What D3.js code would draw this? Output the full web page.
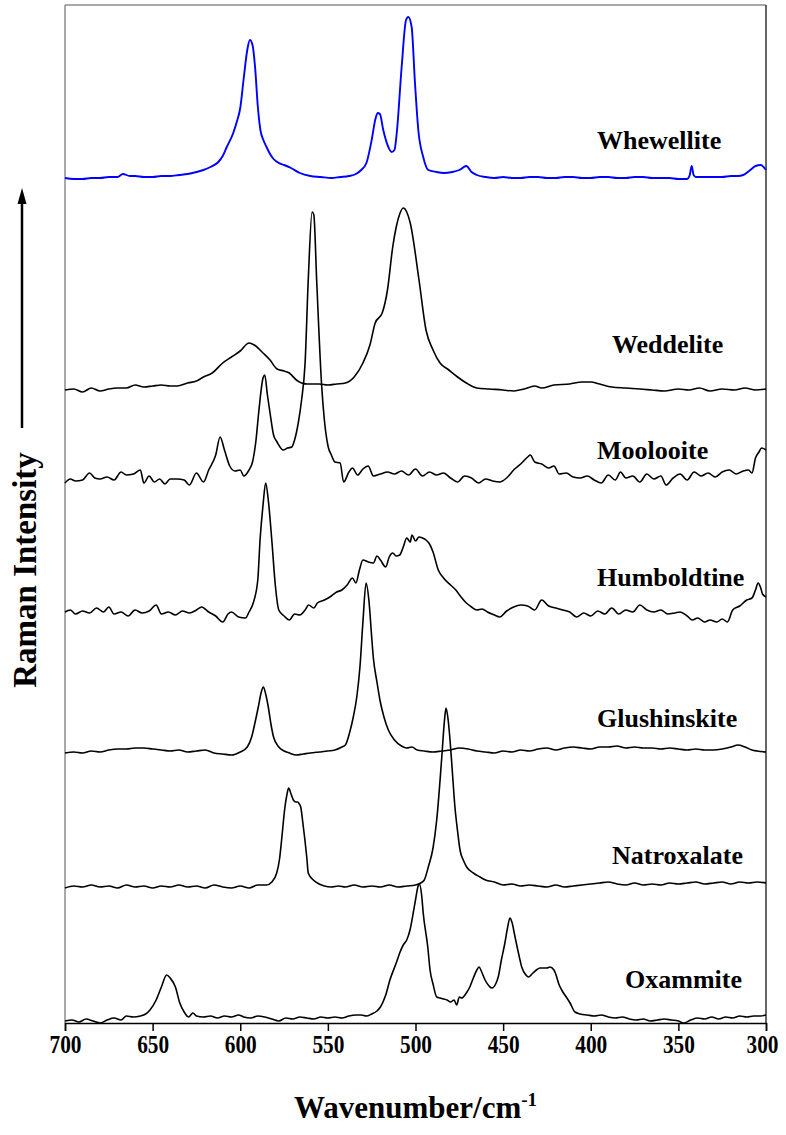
<!DOCTYPE html>
<html>
<head>
<meta charset="utf-8">
<script src="https://cdn.jsdelivr.net/npm/d3@7/dist/d3.min.js"></script>
<style>
  html, body { margin: 0; padding: 0; background: #fff; }
  svg { display: block; }
  text { font-family: "Liberation Serif", "Times New Roman", serif; font-weight: bold; fill: #000; }
</style>
</head>
<body>
<svg id="chart" width="786" height="1135"></svg>
<script>
// ---- data: [wavenumber (cm-1), intensity above each trace's baseline (a.u.)] ----
const xTicks = [700, 650, 600, 550, 500, 450, 400, 350, 300];
const seriesNames = ["Whewellite", "Weddelite", "Moolooite", "Humboldtine", "Glushinskite", "Natroxalate", "Oxammite"];
const seriesOffsets = [845, 633, 543, 411, 271, 137, 4];

const whewellite = [[700,0],[695,-1],[690,-1],[685,0],[680,0],[675,1],[670,1],[667,4],[663,2],[660,2],[655,1],[650,1],[645,2],[640,2],[635,3],[630,4],[625,6],[621,8],[617,11],[612.5,16],[610,22],[607.7,31],[604,45],[602,56],[600,70],[598,100],[596,128],[594.5,138],[593,133],[591.5,110],[590,72],[588.5,48],[586.8,38],[585,31],[583,24],[581,19],[578,15],[575,13],[571,10],[566,5],[560,2],[554,1],[548,0],[543,1],[538,2],[534,4],[531,8],[528,15],[525,38],[523,58],[521.6,65],[520.3,64],[518.4,48],[515.5,31],[513.6,26],[512,28],[510.7,45],[507.9,111],[505.4,158],[504.1,161],[502.2,151],[500.3,95],[498.4,48],[495.6,21],[492.7,8],[488,6],[484,5],[479,6],[475,8],[471,12],[468,6],[465,3],[460,1],[455,0],[450,1],[445,0],[440,0],[435,1],[430,1],[425,0],[420,0],[415,1],[410,1],[405,0],[400,0],[395,1],[390,1],[385,0],[380,0],[375,1],[370,1],[365,0],[360,0],[355,0],[350,-1],[345,-1],[343.5,3],[342.4,12],[341.3,3],[340,1],[335,1],[330,1],[325,1],[320,2],[316,2],[313,3],[309,8],[306,12],[303,13],[300,8]];

const weddelite = [[700,0],[695,1],[690,-2],[685,2],[680,-1],[675,1],[670,2],[665,2],[660,5],[655,3],[650,4],[645,5],[640,4],[636,4],[630,7],[625,9],[621,13],[616,17],[610,27],[605,33],[600,39],[595,47],[592,45],[587,37],[583,30],[579,21],[575,19],[572,17],[568,10],[562,6],[555,6],[550,5],[545,6],[540,7],[535,13],[530,27],[526,45],[523,67],[519,77],[516,100],[513,143],[511,163],[509,176],[507,182],[505,178],[503,167],[498,110],[494,60],[490,40],[486,27],[481,20],[476,13],[471,7],[465,2],[458,1],[450,0],[444,-1],[438,1],[432,4],[428,2],[421,5],[412,6],[405,8],[400,8],[395,6],[388,3],[380,2],[372,1],[365,0],[358,-1],[350,1],[344,0],[338,2],[332,-1],[325,1],[318,0],[312,2],[306,0],[300,1]];

const moolooite = [[700,-3],[697,1],[694,-1],[690,0],[686,7],[683,2],[680,1],[676,3],[672,0],[668,8],[665,5],[661,6],[657,10],[655,-3],[652,4],[649,-2],[646,1],[643,-4],[640,1],[636,1],[632,0],[629,-5],[625,7],[621,-2],[618,10],[614,25],[611.5,43],[609,30],[606,14],[603,9],[600,10],[598,4],[595,10],[593,18],[591,40],[589.5,67],[587,102],[586,105],[584.5,85],[583,67],[581,45],[579,38],[575.4,30],[573,32],[570.6,33],[569,40],[566.9,57],[565,80],[563,117],[561.2,200],[559,268],[558,265],[556.4,200],[553.5,93],[552,60],[549.8,33],[548,25],[546,18],[543,17],[541,-2],[538,8],[536,12],[533,5],[530,11],[527,14],[524,4],[520,6],[516,8],[512,6],[508,9],[504,5],[500,11],[496,4],[492,8],[488,5],[484,7],[480,2],[476,-2],[472,4],[468,2],[464,-3],[460,1],[456,-1],[452,-2],[448,2],[444,10],[440,16],[436,23],[434.5,25],[432,18],[428,16],[424,12],[421,14],[418,6],[414,7],[410,3],[406,2],[402,4],[398,0],[394,-3],[390,5],[386,0],[383,8],[380,2],[376,4],[372,-2],[368,6],[364,1],[360,4],[357,-5],[353,2],[349,6],[345,0],[341,8],[337,4],[333,7],[329,3],[325,8],[321,10],[317,6],[313,9],[310,10],[308,7],[306,22],[304,28],[302.5,32],[300,30]];

const humboldtine = [[700,0],[697,2],[694,-2],[690,1],[686,-1],[682,4],[678,0],[675,5],[672,-2],[668,0],[664,-4],[660,2],[656,-1],[652,1],[648,7],[645,-2],[641,0],[637,-3],[633,1],[629,-1],[625,2],[622,5],[618,0],[614,-4],[610,-10],[607,-2],[605,0],[601,-5],[597,-6],[595,0],[592.6,9],[590,32],[588.7,72],[587,107],[585.5,129],[584,112],[582,72],[580,27],[578,2],[575,-4],[572,-8],[569,-2],[566,-3],[563,2],[561,7],[558,4],[556,9],[552,12],[548,16],[545,20],[542,22],[539,27],[536,34],[534,29],[532,42],[530,52],[527,50],[524,49],[522,56],[520,52],[517,45],[515,55],[513,59],[511,56],[509,57],[507,65],[505,74],[503,70],[502,77],[500,71],[498,75],[496,74],[494,72],[492,68],[490,60],[487,42],[484,34],[480,27],[477,22],[474,15],[471,9],[468,5],[465,2],[462,3],[459,0],[455,-3],[452,-5],[448,1],[444,5],[440,7],[436,6],[432,2],[428,12],[424,6],[420,4],[416,2],[412,0],[408,-5],[404,-1],[400,-4],[396,1],[392,-2],[388,4],[384,-2],[380,2],[376,0],[372,7],[368,2],[364,0],[360,2],[356,-2],[352,-1],[349,0],[345,-4],[342,-8],[339,-6],[335,-10],[332,-8],[328,-10],[325,-7],[322,-10],[319,2],[315,6],[311,12],[308,14],[306,22],[304.5,29],[303,24],[302,18],[300,15]];

const glushinskite = [[700,-1],[695,0],[690,-1],[685,1],[680,0],[675,2],[670,3],[665,3],[660,4],[655,4],[650,3],[645,2],[640,1],[635,2],[630,0],[625,1],[620,2],[615,-1],[610,-2],[605,-3],[600,0],[596,5],[593.5,15],[591.5,30],[589.7,45],[588,60],[586.8,65],[585.5,58],[584,45],[582.5,28],[581,15],[578,5],[575,1],[572,-1],[568,-3],[564,-2],[560,-1],[555,0],[550,1],[546,2],[542,5],[540,7],[537.5,20],[535.5,35],[533.5,55],[531.7,85],[530,130],[528.2,169],[526.5,150],[525,115],[524.1,95],[522,70],[520.3,52],[518,35],[515.5,22],[512,12],[508,6],[505,4],[502,5],[499,2],[495,1],[490,0],[485,1],[480,2],[475,4],[470,3],[465,1],[460,0],[455,-1],[450,1],[445,0],[440,2],[435,1],[430,3],[425,4],[420,2],[415,4],[410,5],[405,4],[400,3],[395,5],[390,5],[385,6],[380,4],[375,5],[370,4],[365,4],[360,3],[355,4],[350,3],[345,2],[340,3],[335,2],[330,2],[325,3],[320,5],[316,7],[312,5],[308,2],[305,1],[300,0]];

const natroxalate = [[700,-2],[695,0],[690,-1],[685,1],[680,-1],[675,0],[670,-2],[665,1],[660,-1],[655,0],[650,-2],[645,0],[640,-1],[635,1],[630,-1],[625,0],[620,-2],[615,1],[610,-1],[605,-2],[600,0],[595,-2],[590,1],[585,1],[582,4],[579.2,13],[577.5,28],[576.4,46],[574.5,79],[573.3,92],[572.4,98],[571,92],[569.7,86],[568.3,84],[567.2,84],[566.3,82],[565.5,79],[564.2,62],[563.1,46],[562,28],[561.2,13],[558.3,6],[555,2],[552,0],[548,-1],[544,0],[540,-1],[535,1],[530,-1],[525,0],[520,-1],[515,1],[510,-1],[505,0],[500,1],[497,3],[495,6],[492.7,19],[490,38],[487.9,66],[485,129],[483.5,165],[482.6,178],[481.5,168],[480.3,146],[479,115],[477.5,79],[476,55],[474.6,36],[472.5,25],[470.8,19],[467,13],[463.2,9],[460,6],[455,4],[450,1],[445,2],[440,0],[435,1],[430,0],[425,-1],[420,1],[415,-1],[410,0],[405,1],[400,2],[395,3],[390,4],[385,2],[380,1],[375,3],[370,1],[365,2],[360,1],[355,3],[350,2],[345,3],[340,4],[335,2],[330,3],[325,4],[320,2],[315,4],[310,3],[305,4],[300,3]];

const oxammite = [[700,-2],[696,-1],[692,-3],[688,0],[684,-2],[680,-4],[676,-1],[672,1],[668,-1],[665,3],[661,2],[657,3],[654,5],[651.5,9],[648,19],[645,32],[642,44],[640,41],[637,32],[634.5,16],[632,7],[629.5,2],[627,6],[625,3],[621,2],[617,3],[613,1],[609,3],[605,2],[601,4],[598,2],[594,1],[590,3],[586,2],[582,0],[578,-2],[574,1],[570,0],[566,2],[562,1],[558,0],[554,2],[550,1],[546,2],[542,1],[538,3],[534,4],[531,4],[528,3],[525,5],[522,8],[520,12],[517,24],[514.6,39],[511,56],[508.8,67],[507,74],[505,79],[503,90],[501.3,106],[500,119],[498.5,133],[497.8,135],[496.5,124],[495.6,106],[493,72],[491.7,49],[490,35],[487.9,22],[486,21],[484,20],[482,19],[480,17],[478,19],[476.5,14],[475,22],[473.6,21],[471,26],[469,32],[467,41],[465,49],[463.8,52],[462,46],[460.3,39],[458,33],[456.5,31],[454,36],[452.8,42],[451,59],[449,76],[447.5,91],[446.1,101],[445,97],[443.2,82],[441,64],[439.4,52],[437,44],[435.6,42],[433,46],[431,49],[429,51],[427,51],[425,51],[423.3,52],[421,49],[420,45],[418,34],[416.6,29],[414,22],[411.8,16],[409,7],[406,5],[402,4],[398,3],[394,4],[390,2],[386,1],[382,2],[378,0],[374,-1],[370,0],[366,-2],[362,-1],[358,0],[354,-1],[350,-2],[347,-4],[343,-1],[339,1],[335,0],[331,2],[327,0],[323,2],[319,1],[315,3],[311,2],[307,3],[303,3],[300,4]];

const seriesData = [whewellite, weddelite, moolooite, humboldtine, glushinskite, natroxalate, oxammite];
const seriesColors = ["#0000ff", "#000", "#000", "#000", "#000", "#000", "#000"];

// ---- layout ----
const plot = { left: 65, right: 766, top: 5, bottom: 1023 };
const svg = d3.select("#chart");

const x = d3.scaleLinear().domain([700, 300]).range([plot.left, plot.right]);
const y = d3.scaleLinear().domain([0, 1018]).range([plot.bottom, plot.top]);

// frame (Excel-like plot area border)
svg.append("line").attr("x1", plot.left).attr("x2", plot.right).attr("y1", plot.top).attr("y2", plot.top)
  .attr("stroke", "#8c8c8c").attr("stroke-width", 1.5);
svg.append("line").attr("x1", plot.left).attr("x2", plot.left).attr("y1", plot.top).attr("y2", plot.bottom)
  .attr("stroke", "#8c8c8c").attr("stroke-width", 1.5);
svg.append("line").attr("x1", plot.right).attr("x2", plot.right).attr("y1", plot.top).attr("y2", plot.bottom)
  .attr("stroke", "#333").attr("stroke-width", 1.5);

// spectra
const line = d3.line().x(d => x(d[0])).curve(d3.curveMonotoneX);
seriesData.forEach((data, i) => {
  svg.append("path")
    .datum(data)
    .attr("fill", "none")
    .attr("stroke", seriesColors[i])
    .attr("stroke-width", i === 0 ? 1.9 : 1.6)
    .attr("stroke-linejoin", "round")
    .attr("d", line.y(d => y(d[1] + seriesOffsets[i])));
});

// x axis
const xAxis = d3.axisBottom(x).tickValues(xTicks).tickSize(8).tickPadding(4).tickFormat(d3.format("d"));
const gx = svg.append("g").attr("transform", `translate(0,${plot.bottom})`).call(xAxis);
gx.select(".domain").attr("stroke", "#000").attr("stroke-width", 1.5);
gx.selectAll(".tick line").attr("stroke", "#000").attr("stroke-width", 1.5);
gx.selectAll(".tick text").attr("font-size", 26).attr("font-family", "'Liberation Serif', serif")
  .attr("font-weight", "bold").attr("fill", "#000").attr("textLength", 32).attr("lengthAdjust", "spacingAndGlyphs")
  .attr("dx", d => d === 300 ? -4 : 0);

// series labels
const labelPos = [[597, 149], [612, 353], [597, 459], [597, 586], [597, 727], [612, 864], [625, 988]];
seriesNames.forEach((name, i) => {
  svg.append("text").attr("x", labelPos[i][0]).attr("y", labelPos[i][1])
    .attr("font-size", 26).text(name);
});

// x title
const title = svg.append("text").attr("x", (plot.left + plot.right) / 2).attr("y", 1118)
  .attr("text-anchor", "middle").attr("font-size", 31);
title.append("tspan").text("Wavenumber/cm");
title.append("tspan").attr("dy", -12).attr("font-size", 19).text("-1");

// y title with arrow
svg.append("text").attr("transform", "translate(36,570) rotate(-90)")
  .attr("text-anchor", "middle").attr("font-size", 33).text("Raman Intensity");
svg.append("line").attr("x1", 22).attr("x2", 22).attr("y1", 428).attr("y2", 200)
  .attr("stroke", "#000").attr("stroke-width", 2.5);
svg.append("path").attr("d", "M22,188 L17.5,204 L26.5,204 Z").attr("fill", "#000");
</script>
</body>
</html>
